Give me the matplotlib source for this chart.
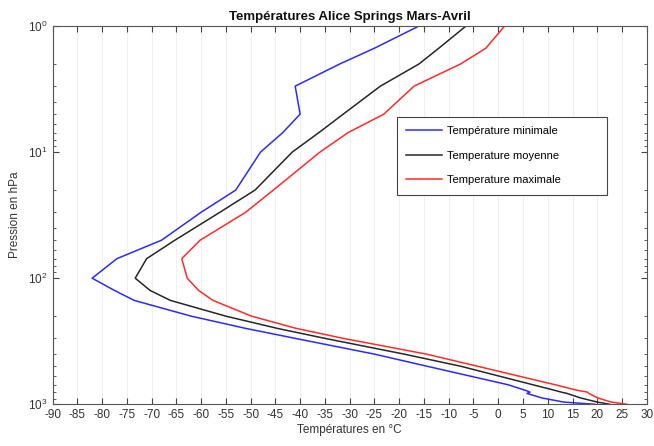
"""Profil vertical de température, Alice Springs, mars-avril."""

import matplotlib

matplotlib.use("Agg")
import matplotlib.pyplot as plt
from matplotlib.ticker import LogLocator, MultipleLocator, NullFormatter

plt.rcParams["font.family"] = ["Liberation Sans", "DejaVu Sans"]
plt.rcParams["mathtext.fontset"] = "custom"
plt.rcParams["mathtext.rm"] = "Liberation Sans"
plt.rcParams["axes.unicode_minus"] = False

# niveaux de pression (hPa)
pression = [1, 1.5, 2, 3, 5, 7, 10, 20, 30, 50, 70, 100, 125, 150, 200, 250,
            300, 400, 500, 700, 775, 800, 820, 890, 960, 1000]

t_min = [-16, -25, -32, -41, -40, -43.5, -48, -53, -60, -68, -77, -82, -77.5,
         -73.5, -62, -51, -41, -25, -14.3, 2, 5.5, 6.4, 5.8, 8.8, 13.2, 19.5]
t_moy = [-6.5, -12, -16, -23.8, -31.3, -36.2, -41.6, -49.1, -56.2, -65.3, -71,
         -73.3, -70.3, -66.2, -55, -44.6, -35, -19, -7.5, 7, 11.4, 12.7, 13.9,
         16.6, 20, 22.5]
t_max = [1.3, -2.5, -7.6, -17, -23.1, -30.3, -36, -45.4, -51, -60.2, -63.9,
         -62.8, -60.5, -57.6, -49.8, -40.8, -31.3, -14.5, -4.1, 11.5, 16, 18,
         18.3, 20.1, 22.8, 26]

labels = ["Température minimale", "Temperature moyenne", "Temperature maximale"]

fig = plt.figure(figsize=(6.54, 4.46), dpi=100)
ax = fig.add_axes([0.0803, 0.0935, 0.9087, 0.8482])

ax.plot(t_min, pression, color="#2a2aff", lw=1.1, label=labels[0])
ax.plot(t_moy, pression, color="#262626", lw=1.1, label=labels[1])
ax.plot(t_max, pression, color="#ff2a2a", lw=1.1, label=labels[2])

ax.set_yscale("log")
ax.set_ylim(1000, 1)
ax.set_xlim(-90, 30)
ax.xaxis.set_major_locator(MultipleLocator(5))
ax.yaxis.set_major_locator(LogLocator(base=10, numticks=10))
ax.yaxis.set_minor_locator(LogLocator(base=10, subs=range(2, 10), numticks=10))
ax.yaxis.set_minor_formatter(NullFormatter())

ax.grid(axis="x", which="major", color="#f0f0f0", lw=0.8)
ax.set_axisbelow(True)

ax.tick_params(which="both", direction="in", top=True, right=True,
               labelsize=8.5, colors="#444444", labelcolor="#333333")
ax.tick_params(which="major", length=4)
ax.tick_params(which="minor", length=2.5)
for sp in ax.spines.values():
    sp.set_color("#555555")
    sp.set_linewidth(0.8)

ax.set_title("Températures Alice Springs Mars-Avril", fontsize=9.5,
             fontweight="bold", color="#111111", pad=4)
ax.set_xlabel("Températures en °C", fontsize=8.5, color="#333333", labelpad=2)
ax.set_ylabel("Pression en hPa", fontsize=8.5, color="#333333", labelpad=5)

leg = ax.legend(loc="upper left", bbox_to_anchor=(0.579, 0.56, 0.354, 0.2),
                mode="expand", borderaxespad=0, fontsize=8, fancybox=False,
                framealpha=1, edgecolor="#444444", handlelength=3.2,
                handletextpad=0.5, labelspacing=1.3, borderpad=0.85)
leg.get_frame().set_linewidth(0.8)

fig.savefig("out.png", dpi=100)
